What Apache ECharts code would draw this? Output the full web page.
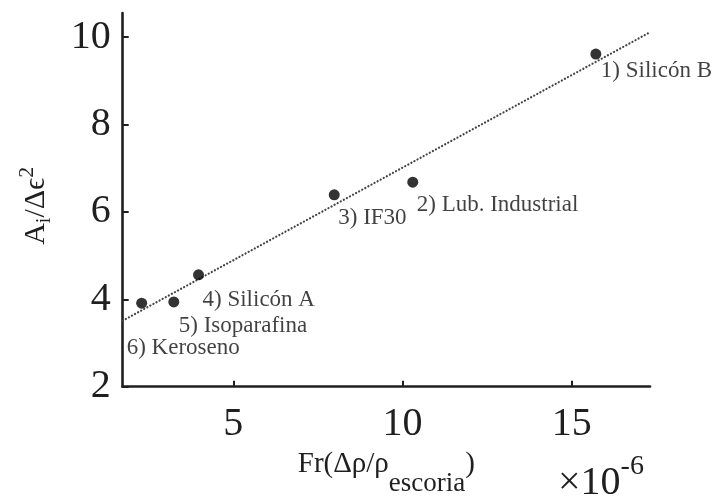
<!DOCTYPE html>
<html>
<head>
<meta charset="utf-8">
<script src="https://cdn.jsdelivr.net/npm/echarts@6/dist/echarts.min.js"></script>
<style>
  html, body { margin: 0; padding: 0; background: #fff; }
  #chart { width: 712px; height: 496px; }
</style>
</head>
<body>
<div id="chart"></div>
<script>
// Measured points: Froude-type number (x, in units of 1e-6) vs A_i/Δϵ²
const fluidNames = ['1) Silicón B', '2) Lub. Industrial', '3) IF30', '4) Silicón A', '5) Isoparafina', '6) Keroseno'];
const frValues = [15.71, 10.30, 7.98, 3.97, 3.24, 2.29];
const ratioValues = [9.61, 6.68, 6.39, 4.56, 3.94, 3.91];

// Linear fit drawn across the whole axis range (end points)
const fitX = [1.73, 17.31];
const fitY = [3.51, 10.11];

// Tick labels
const xTicks = [5, 10, 15];
const yTicks = [2, 4, 6, 8, 10];

// Label placement for each annotation, in pixels from the marker centre
const labelOffsets = [[5, 17], [4, 23], [4, 23], [4, 25], [5, 24], [-15, 45]];

const FONT = "'Liberation Serif', 'Times New Roman', serif";
const INK = '#1f1f1f';

const chart = echarts.init(document.getElementById('chart'), null, { renderer: 'canvas' });

const pointData = frValues.map((x, i) => ({
  value: [x, ratioValues[i]],
  label: { offset: labelOffsets[i] }
}));

const fitData = fitX.map((x, i) => [x, fitY[i]]);

chart.setOption({
  animation: false,
  backgroundColor: '#ffffff',
  textStyle: { fontFamily: FONT, color: INK },
  grid: {
    left: 122.7, right: 62, top: 13, bottom: 109.3,
    containLabel: false,
    outerBoundsMode: 'none'
  },
  xAxis: {
    type: 'value',
    min: 1.73,
    max: 17.31,
    splitLine: { show: false },
    axisLine: { show: true, onZero: false, lineStyle: { color: INK, width: 2.6 } },
    axisTick: { show: true, inside: true, length: 6, customValues: xTicks, lineStyle: { color: INK, width: 2 } },
    axisLabel: { customValues: xTicks, fontFamily: FONT, fontSize: 40, color: INK, margin: 18 },
    name: '{n|Fr(Δρ/ρ}{sub|escoria}{n|)}',
    nameLocation: 'middle',
    nameGap: 43,
    nameTextStyle: {
      rich: {
        n: { fontFamily: FONT, fontSize: 29, color: INK },
        sub: { fontFamily: FONT, fontSize: 27, color: INK, padding: [40, 0, 0, 0] }
      }
    }
  },
  yAxis: {
    type: 'value',
    min: 2,
    max: 10.55,
    splitLine: { show: false },
    axisLine: { show: true, onZero: false, lineStyle: { color: INK, width: 2.6 } },
    axisTick: { show: true, inside: true, length: 6, customValues: yTicks, lineStyle: { color: INK, width: 2 } },
    axisLabel: { customValues: yTicks, fontFamily: FONT, fontSize: 40, color: INK, margin: 12 },
    name: '{n|A}{sub|i}{n|/Δϵ}{sup|2}',
    nameLocation: 'middle',
    nameRotate: 90,
    nameGap: 68,
    nameTextStyle: {
      padding: [0, 12, 0, 0],
      rich: {
        n: { fontFamily: FONT, fontSize: 30, color: INK },
        sub: { fontFamily: FONT, fontSize: 20, color: INK, padding: [18, 0, 0, 0] },
        sup: { fontFamily: FONT, fontSize: 22, color: INK, padding: [0, 0, 16, 0] }
      }
    }
  },
  series: [
    {
      type: 'line',
      data: fitData,
      symbol: 'none',
      silent: true,
      lineStyle: { color: '#444444', width: 2.2, type: [0.1, 3.4], cap: 'round' },
      z: 2
    },
    {
      type: 'scatter',
      data: pointData,
      symbol: 'circle',
      symbolSize: 11,
      itemStyle: { color: '#000000' },
      label: {
        show: true,
        position: 'inside',
        align: 'left',
        verticalAlign: 'middle',
        fontFamily: FONT,
        fontSize: 23,
        color: '#111111',
        formatter: (p) => fluidNames[p.dataIndex]
      },
      z: 3
    }
  ],
  graphic: [
    {
      type: 'text',
      left: 558,
      top: 453,
      style: {
        text: '{a|×10}{b|-6}',
        rich: {
          a: { fontFamily: FONT, fontSize: 40, fill: INK, padding: [16, 0, 0, 0] },
          b: { fontFamily: FONT, fontSize: 28, fill: INK, padding: [0, 0, 16, 0] }
        }
      }
    }
  ]
});
</script>
</body>
</html>
